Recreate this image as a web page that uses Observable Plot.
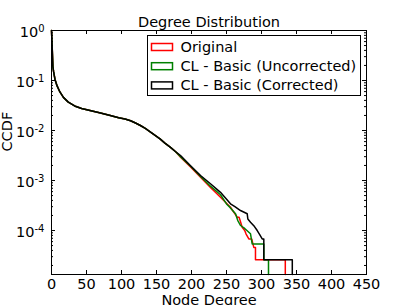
<!DOCTYPE html>
<html><head><meta charset="utf-8">
<script src="https://cdn.jsdelivr.net/npm/d3@7"></script>
<script src="https://cdn.jsdelivr.net/npm/@observablehq/plot@0.6"></script>
<style>html,body{margin:0;padding:0;background:#fff;overflow:hidden}</style>
</head><body><div id="chart"></div>
<script>
const title = "Degree Distribution";
const xLabel = "Node Degree";
const yLabel = "CCDF";
const seriesNames = ["Original", "CL - Basic (Uncorrected)", "CL - Basic (Corrected)"];
const seriesColors = ["#ff0000", "#008000", "#000000"];
const xTicks = [0, 50, 100, 150, 200, 250, 300, 350, 400, 450];
const yTicks = [1, 0.1, 0.01, 0.001, 0.0001];
const yMin = 1.32e-5;

// shared head of the three CCDF curves (they overlap)
const headDegree = [0, 1, 2, 3, 5, 8, 12, 17, 24, 33, 43, 58, 70, 84, 96, 105, 113, 120, 127, 134, 141, 148, 155, 162, 170, 177];
const headCcdf   = [1, 0.45, 0.19, 0.15, 0.105, 0.078, 0.059, 0.046, 0.037, 0.031, 0.0275, 0.0245, 0.0224, 0.020, 0.0180, 0.0170, 0.0157, 0.0141, 0.0126, 0.0110, 0.0094, 0.0080, 0.0068, 0.0056, 0.0046, 0.0038];

const originalDegree = [184.3, 199, 212.9, 227.1, 241.4, 255.7, 258, 265.3, 268, 272.4, 276, 278, 281.9, 286, 289, 291.4, 291.4, 334, 334];
const originalCcdf   = [2.92e-3, 1.85e-3, 1.16e-3, 7.3e-4, 4.63e-4, 2.92e-4, 2.6e-4, 1.85e-4, 1.85e-4, 1.16e-4, 1.0e-4, 8.5e-5, 6.8e-5, 6.8e-5, 4.6e-5, 4.6e-5, 2.6e-5, 2.6e-5, 1.32e-5];

const uncorrectedDegree = [184.3, 199, 212.9, 227.1, 241.4, 250, 255, 262.9, 266, 270, 276, 284.3, 286.7, 301, 303.3, 303.3, 310, 310];
const uncorrectedCcdf   = [3.0e-3, 1.9e-3, 1.2e-3, 7.7e-4, 5.2e-4, 3.4e-4, 2.9e-4, 2.16e-4, 1.6e-4, 1.26e-4, 1.1e-4, 8.6e-5, 5.4e-5, 5.4e-5, 5.4e-5, 2.6e-5, 2.6e-5, 1.32e-5];

const correctedDegree = [184.3, 199, 212.9, 227.1, 241.4, 255.7, 262, 270, 279.6, 280.5, 284.3, 290, 293.9, 297, 301, 303.3, 303.3, 344, 344];
const correctedCcdf   = [3.16e-3, 1.95e-3, 1.26e-3, 8.6e-4, 5.8e-4, 3.42e-4, 3.0e-4, 2.51e-4, 2.16e-4, 1.7e-4, 1.47e-4, 1.2e-4, 1.0e-4, 8.5e-5, 6.8e-5, 6.8e-5, 2.6e-5, 2.6e-5, 1.32e-5];

const tails = [[originalDegree, originalCcdf], [uncorrectedDegree, uncorrectedCcdf], [correctedDegree, correctedCcdf]];
const seriesRows = tails.map(([deg, cc], i) => {
  const rows = headDegree.map((d, j) => ({series: seriesNames[i], degree: d, ccdf: headCcdf[j]}));
  deg.forEach((d, j) => rows.push({series: seriesNames[i], degree: d, ccdf: cc[j]}));
  return rows;
});

const minorY = [];
for (let k = -5; k <= -1; k++) for (let m = 2; m <= 9; m++) { const v = m * Math.pow(10, k); if (v >= yMin && v <= 1) minorY.push(v); }

const W = 407, H = 305, mt = 30, mb = 31, ml = 51, mr = 41;
const fw = W - ml - mr, fh = H - mt - mb;

const plot = Plot.plot({
  width: W, height: H, marginTop: mt, marginBottom: mb, marginLeft: ml, marginRight: mr,
  style: {fontFamily: "'DejaVu Sans', sans-serif", fontSize: "14.5px", background: "#fff", color: "#000"},
  x: {domain: [0, 450]},
  y: {type: "log", domain: [yMin, 1]},
  marks: [
    ...seriesRows.map((rows, i) => Plot.line(rows, {x: "degree", y: "ccdf", stroke: seriesColors[i], strokeWidth: 1.5})),
    Plot.frame({stroke: "#000", strokeWidth: 1}),
    Plot.tickX(xTicks, {x: d => d, insetTop: fh - 4, stroke: "#000"}),
    Plot.tickX(xTicks, {x: d => d, insetBottom: fh - 4, stroke: "#000"}),
    Plot.tickY(yTicks, {y: d => d, insetRight: fw - 4, stroke: "#000"}),
    Plot.tickY(yTicks, {y: d => d, insetLeft: fw - 4, stroke: "#000"}),
    Plot.tickY(minorY, {y: d => d, insetRight: fw - 2, stroke: "#000"}),
    Plot.tickY(minorY, {y: d => d, insetLeft: fw - 2, stroke: "#000"}),
    Plot.axisX({ticks: xTicks, tickSize: 0, tickPadding: 4, label: null, tickFormat: d => String(d)}),
    Plot.axisY({ticks: yTicks, tickSize: 0, tickPadding: 7, dy: 2, label: null, tickFormat: d => "10^" + Math.round(Math.log10(d))}),
    Plot.text([title], {text: d => d, frameAnchor: "top", lineAnchor: "bottom", dy: -3.5}),
    Plot.text([xLabel], {text: d => d, frameAnchor: "bottom", lineAnchor: "bottom", dy: 30}),
    Plot.text([yLabel], {text: d => d, frameAnchor: "left", rotate: -90, lineAnchor: "bottom", dx: -39.3, dy: -1})
  ]
});

const svg = d3.select(plot);
svg.selectAll('g[aria-label="y-axis tick label"] text').each(function () {
  const t = this.textContent;
  const parts = t.split("^");
  this.textContent = parts[0];
  d3.select(this).append("tspan").attr("dy", "-5").attr("font-size", "10px").text(parts[1]);
});

const lg = svg.append("g").attr("aria-label", "legend").attr("text-anchor", "start");
lg.append("rect").attr("x", 147.5).attr("y", 35.5).attr("width", 213).attr("height", 60)
  .attr("fill", "#fff").attr("stroke", "#000").attr("stroke-width", 1);
seriesNames.forEach((n, i) => {
  const cy = 47 + i * 19.2;
  lg.append("rect").attr("x", 151.5).attr("y", cy - 3.5).attr("width", 21).attr("height", 7)
    .attr("fill", "none").attr("stroke", seriesColors[i]).attr("stroke-width", 1.5);
  lg.append("text").attr("x", 180.5).attr("y", cy + 5).attr("fill", "#000").attr("text-anchor", "start").text(n);
});

document.getElementById("chart").appendChild(plot);
</script>
</body></html>
